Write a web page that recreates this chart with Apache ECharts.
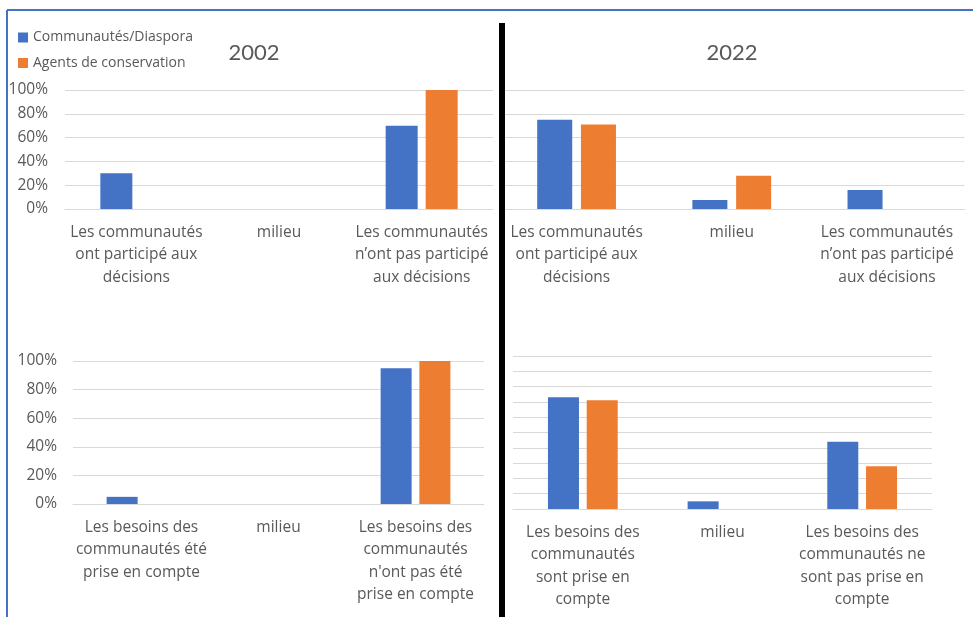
<!DOCTYPE html>
<html>
<head>
<meta charset="utf-8">
<script src="https://cdn.jsdelivr.net/npm/echarts@6/dist/echarts.min.js"></script>
<style>
html,body{margin:0;padding:0;background:#fff;}
#chart{width:973px;height:617px;}
</style>
</head>
<body>
<div id="chart"></div>
<script>
// ---- Data ----
const seriesNames = ['Communautés/Diaspora', 'Agents de conservation'];
const panelTitles = ['2002', '2022'];

const catsTop = [
  'Les communautés\nont participé aux\ndécisions',
  'milieu',
  'Les communautés\nn’ont pas participé\naux décisions'
];
const catsBottomLeft = [
  'Les besoins des\ncommunautés été\nprise en compte',
  'milieu',
  "Les besoins des\ncommunautés\nn'ont pas été\nprise en compte"
];
const catsBottomRight = [
  'Les besoins des\ncommunautés\nsont prise en\ncompte',
  'milieu',
  'Les besoins des\ncommunautés ne\nsont pas prise en\ncompte'
];

// values (fractions of 1)
const tl_diaspora = [0.30, 0, 0.70];
const tl_agents   = [0, 0, 1.00];
const tr_diaspora = [0.75, 0.075, 0.16];
const tr_agents   = [0.71, 0.28, 0];
const bl_diaspora = [0.05, 0, 0.95];
const bl_agents   = [0, 0, 1.00];
const br_diaspora = [0.73, 0.05, 0.44];
const br_agents   = [0.71, 0, 0.28];

// ---- Styles ----
const BLUE = '#4472C4', ORANGE = '#ED7D31', GRID = '#D9D9D9', TXT = '#595959';
const FONT = 'Open Sans';

const chart = echarts.init(document.getElementById('chart'), null, {renderer: 'canvas'});

function xAx(gridIndex, cats, margin) {
  return {
    type: 'category', gridIndex: gridIndex, data: cats,
    axisLine: {show: true, lineStyle: {color: GRID, width: 1}},
    axisTick: {show: false},
    axisLabel: {interval: 0, color: TXT, fontFamily: FONT, fontSize: 15.5, lineHeight: 22.5, margin: margin, align: 'center'}
  };
}
function yAx(gridIndex, interval, showLabels, margin) {
  return {
    type: 'value', gridIndex: gridIndex, min: 0, max: 1, interval: interval,
    axisLine: {show: false}, axisTick: {show: false},
    splitLine: {show: true, lineStyle: {color: GRID, width: 1}},
    axisLabel: {show: showLabels, color: TXT, fontFamily: FONT, fontSize: 15.5, margin: margin,
      formatter: v => Math.round(v * 100) + '%'}
  };
}
function bar(name, xi, data, color, w) {
  return {
    name: name, type: 'bar', xAxisIndex: xi, yAxisIndex: xi, data: data,
    barWidth: w, barGap: '25%', itemStyle: {color: color}, silent: true
  };
}

const option = {
  animation: false,
  backgroundColor: '#ffffff',
  legend: {
    data: seriesNames, orient: 'vertical', left: 18, top: 30, padding: 0,
    itemWidth: 10, itemHeight: 10, itemGap: 10.5, icon: 'rect',
    textStyle: {color: TXT, fontFamily: FONT, fontSize: 14, lineHeight: 15}
  },
  title: [
    {text: panelTitles[0], left: 254, top: 42, textAlign: 'center', padding: 0,
     textStyle: {color: TXT, fontFamily: 'Lato', fontSize: 22, fontWeight: 'normal'}},
    {text: panelTitles[1], left: 732, top: 42, textAlign: 'center', padding: 0,
     textStyle: {color: TXT, fontFamily: 'Lato', fontSize: 22, fontWeight: 'normal'}}
  ],
  grid: [
    {left: 65, right: 480, top: 90, height: 119},
    {left: 499, right: 8.5, top: 90, height: 119},
    {left: 73, right: 489, top: 361, height: 143},
    {left: 513, right: 41, top: 356, height: 153}
  ],
  xAxis: [
    xAx(0, catsTop, 12),
    xAx(1, catsTop, 12),
    xAx(2, catsBottomLeft, 12),
    xAx(3, catsBottomRight, 12)
  ],
  yAxis: [
    yAx(0, 0.2, true, 17),
    yAx(1, 0.2, false, 17),
    yAx(2, 0.2, true, 16),
    yAx(3, 0.1, false, 16)
  ],
  series: [
    bar(seriesNames[0], 0, tl_diaspora, BLUE, 32),
    bar(seriesNames[1], 0, tl_agents, ORANGE, 32),
    bar(seriesNames[0], 1, tr_diaspora, BLUE, 35),
    bar(seriesNames[1], 1, tr_agents, ORANGE, 35),
    bar(seriesNames[0], 2, bl_diaspora, BLUE, 31),
    bar(seriesNames[1], 2, bl_agents, ORANGE, 31),
    bar(seriesNames[0], 3, br_diaspora, BLUE, 31),
    bar(seriesNames[1], 3, br_agents, ORANGE, 31)
  ],
  graphic: [
    {type: 'line', z: 100, shape: {x1: 7, y1: 10, x2: 973, y2: 10}, style: {stroke: BLUE, lineWidth: 2}},
    {type: 'line', z: 100, shape: {x1: 7, y1: 10, x2: 7, y2: 617}, style: {stroke: BLUE, lineWidth: 2}},
    {type: 'rect', z: 100, shape: {x: 499, y: 23, width: 6, height: 594}, style: {fill: '#000000'}}
  ]
};
chart.setOption(option);
</script>
</body>
</html>
